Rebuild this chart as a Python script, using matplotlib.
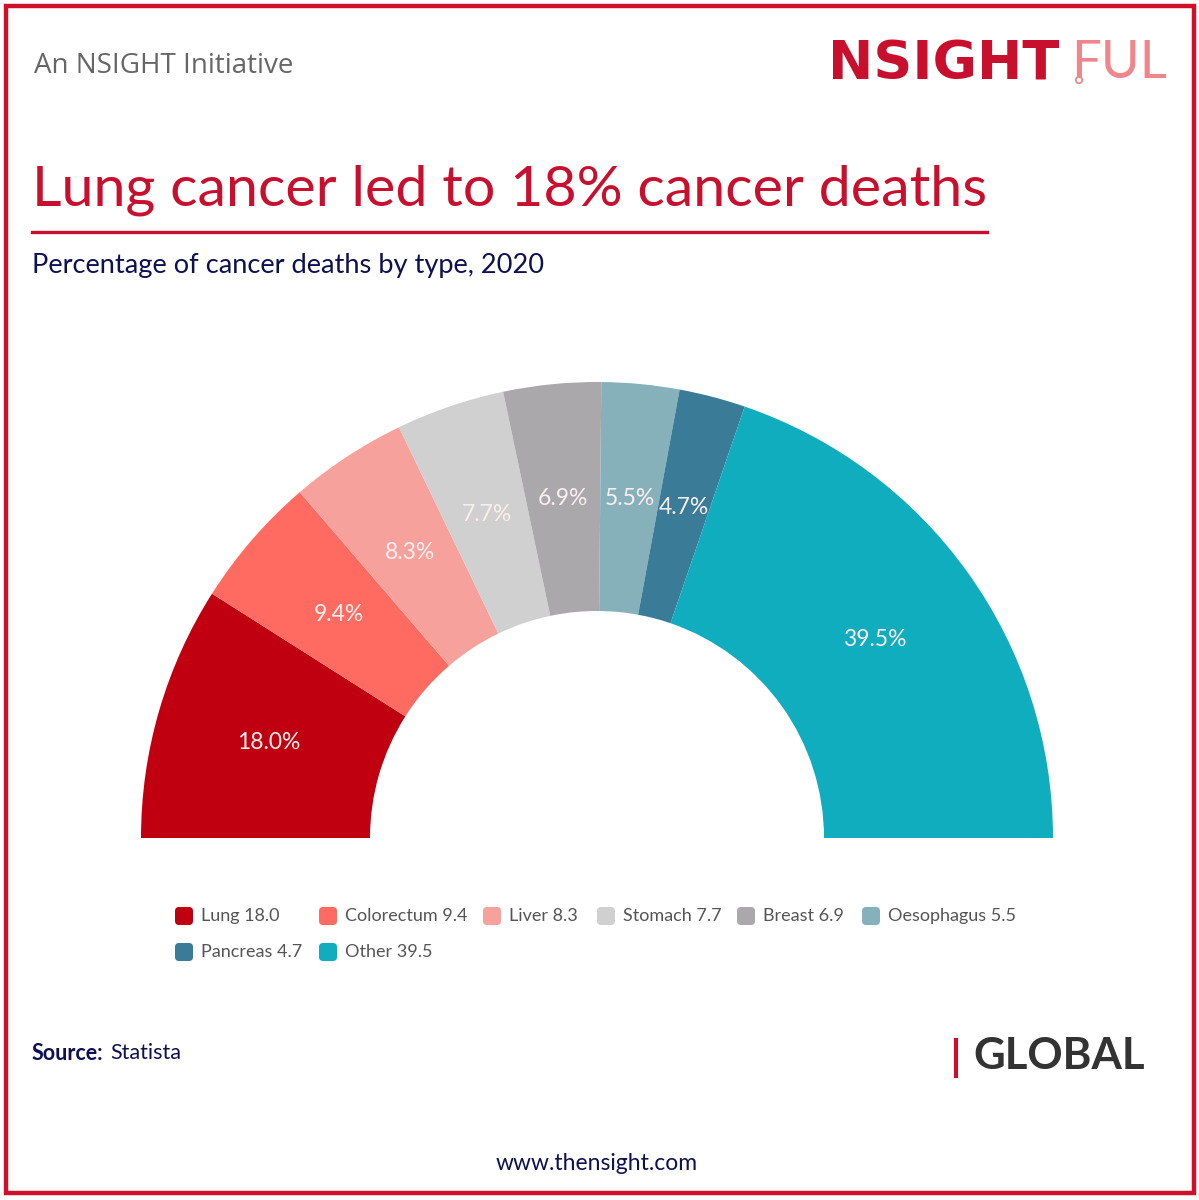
import numpy as np
import matplotlib
matplotlib.use("Agg")
import matplotlib.pyplot as plt
from matplotlib.patches import Rectangle, FancyBboxPatch, Circle

# data
types = ["Lung", "Colorectum", "Liver", "Stomach", "Breast", "Oesophagus", "Pancreas", "Other"]
shares = [18.0, 9.4, 8.3, 7.7, 6.9, 5.5, 4.7, 39.5]
colors = ["#c00010", "#ff6b61", "#f7a19c", "#d0d0d0", "#aaa8ab", "#86b1ba", "#3a7b98", "#10adbf"]

W, H = 1199, 1200
fig = plt.figure(figsize=(W / 100, H / 100), dpi=100)
ax = fig.add_axes([0, 0, 1, 1])

def Y(y):
    # pixel row (from top) -> axes y
    return H - y

# half donut: the hidden wedge takes the lower half
cx, cy = 597, 838
r_out, r_in = 456, 227
wedges, _ = ax.pie(shares + [sum(shares)], radius=r_out, center=(cx, Y(cy)),
                   startangle=180, counterclock=False, frame=True,
                   colors=colors + ["none"],
                   wedgeprops=dict(width=r_out - r_in, linewidth=0))
r_mid = (r_out + r_in) / 2
for w, v in zip(wedges[:-1], shares):
    ang = np.radians((w.theta1 + w.theta2) / 2)
    ax.text(cx + r_mid * np.cos(ang), Y(cy) + r_mid * np.sin(ang), f"{v:.1f}%",
            ha="center", va="center", fontsize=16.5, color="#fbeeee", family="Lato")

ax.set_xlim(0, W)
ax.set_ylim(0, H)
ax.axis("off")

# frame
ax.add_patch(Rectangle((6, Y(1193)), 1188, 1187, fill=False, ec="#d0102b", lw=3.2))

# header
ax.text(34, Y(66), "An NSIGHT Initiative", fontsize=20, color="#666666",
        family="Open Sans", va="center")
ax.text(828, Y(64), "NSIGHT", fontsize=39, color="#c8102e", weight="bold",
        family="DejaVu Sans", va="center")
ax.text(1071, Y(64), "FUL", fontsize=38, color="#f0868c",
        family="Lato", va="center")
ax.add_patch(Circle((1079, Y(80)), 3.2, fill=False, ec="#f0868c", lw=1.3))

ax.text(32, Y(190), "Lung cancer led to 18% cancer deaths", fontsize=41.3,
        color="#c8102e", family="Lato", va="center")
ax.plot([32, 987], [Y(232), Y(232)], color="#c8102e", lw=2.4)
ax.text(32, Y(265), "Percentage of cancer deaths by type, 2020", fontsize=19.6,
        color="#0d1150", family="Lato", va="center")

# legend
leg_x = [184, 328, 492, 606, 746, 871, 184, 328]
leg_y = [916] * 6 + [952] * 2
for name, v, c, lx, ly in zip(types, shares, colors, leg_x, leg_y):
    ax.add_patch(FancyBboxPatch((lx - 6, Y(ly) - 6), 12, 12,
                                boxstyle="round,pad=3,rounding_size=4",
                                fc=c, ec="none"))
    ax.text(lx + 17, Y(ly), f"{name} {v:.1f}", fontsize=13, color="#555555",
            family="Lato", va="center")

# footer
ax.text(32, Y(1053), "Source:", fontsize=15.5, color="#0d1150", weight="bold",
        family="Lato", va="center")
ax.text(110, Y(1053), "Statista", fontsize=15.5, color="#0d1150",
        family="Lato", va="center")
ax.plot([956, 956], [Y(1040), Y(1076)], color="#c8102e", lw=3)
ax.text(973, Y(1056), "GLOBAL", fontsize=31.5, color="#333333", weight="bold",
        family="Lato", va="center")
ax.text(597, Y(1163), "www.thensight.com", fontsize=16.5, color="#0d1150",
        family="Lato", va="center", ha="center")

fig.savefig("out.png", dpi=100)
